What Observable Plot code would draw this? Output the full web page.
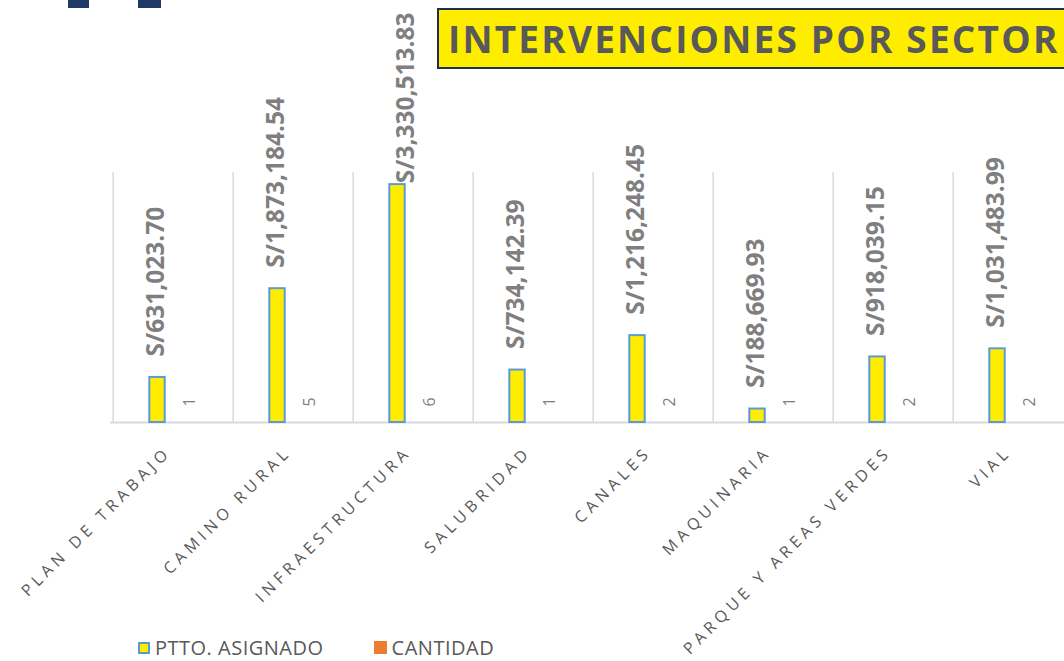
<!DOCTYPE html>
<html>
<head>
<meta charset="utf-8">
<script src="https://cdn.jsdelivr.net/npm/d3@7"></script>
<script src="https://cdn.jsdelivr.net/npm/@observablehq/plot@0.6"></script>
<style>
  html, body { margin: 0; padding: 0; background: #fff; }
  #wrap { position: relative; width: 1064px; height: 661px; overflow: hidden; font-family: "Open Sans", sans-serif; }
  #chart { position: absolute; left: 0; top: 0; }
  .deco { position: absolute; top: 0; height: 8px; background: #203864; }
  #title { position: absolute; left: 437px; top: 8px; width: 660px; height: 57px; background: #FFED00;
           border: 2px solid #1F2D4F; box-sizing: content-box; color: #595959; font-weight: 700;
           font-size: 37px; letter-spacing: 2.2px; line-height: 57px; padding-left: 9px; white-space: nowrap; }
  #legend { position: absolute; left: 138px; top: 634px; display: flex; align-items: center; color: #595959; font-size: 20px; line-height: 27px; letter-spacing: 0.5px; white-space: nowrap; }
  .sw { display: inline-block; margin-right: 5px; }
</style>
</head>
<body>
<div id="wrap">
  <div id="chart"></div>
  <div class="deco" style="left:68px;width:21px"></div>
  <div class="deco" style="left:138px;width:23px"></div>
  <div id="title">INTERVENCIONES POR SECTOR</div>
  <div id="legend"></div>
</div>
<script>
const categories = ["PLAN DE TRABAJO", "CAMINO RURAL", "INFRAESTRUCTURA", "SALUBRIDAD", "CANALES", "MAQUINARIA", "PARQUE Y AREAS VERDES", "VIAL"];
const presupuesto = [631023.70, 1873184.54, 3330513.83, 734142.39, 1216248.45, 188669.93, 918039.15, 1031483.99];
const cantidad = [1, 5, 6, 1, 2, 1, 2, 2];
const seriesNames = ["PTTO. ASIGNADO", "CANTIDAD"];
const seriesFill = ["#FFED00", "#ED7D31"];
const yMax = 3500000;

const data = categories.map((c, i) => ({sector: c, budget: presupuesto[i], count: cantidad[i]}));
const fmt = v => "S/" + d3.format(",.2f")(v);

const barOpts = {insetLeft: 52.3, insetRight: 52.3};

const plot = Plot.plot({
  width: 1064,
  height: 661,
  marginLeft: 110,
  marginRight: 0,
  marginTop: 172,
  marginBottom: 239,
  style: {fontFamily: "Open Sans, sans-serif", background: "transparent"},
  x: {domain: categories, range: [110, 1075.4], padding: 0, axis: null},
  y: {domain: [0, yMax], axis: null},
  marks: [
    Plot.ruleX(categories, {x: d => d, y1: 0, y2: yMax, dx: -60.33, stroke: "#d9d9d9", strokeWidth: 1.5}),
    Plot.ruleY([0], {stroke: "#d9d9d9", strokeWidth: 2}),
    Plot.barY(data, {x: "sector", y: "budget", fill: seriesFill[0], stroke: "#5B9BD5", strokeWidth: 2, dx: -16, ...barOpts}),
    Plot.barY(data, {x: "sector", y: "count", fill: seriesFill[1], dx: 16, ...barOpts}),
    Plot.text(data, {filter: d => d.budget < 3000000, x: "sector", y: "budget", text: d => fmt(d.budget), rotate: -90,
      textAnchor: "start", dx: -17, dy: -21, fontSize: 24.5, fontWeight: 700, fill: "#7F7F7F"}),
    Plot.text(data, {filter: d => d.budget >= 3000000, x: "sector", frameAnchor: "top", text: d => fmt(d.budget), rotate: -90,
      textAnchor: "end", dx: -17, dy: -160, fontSize: 24.5, fontWeight: 700, fill: "#7F7F7F"}),
    Plot.text(data, {x: "sector", y: 0, text: d => String(d.count), rotate: -90, textAnchor: "start",
      dx: 16, dy: -16, fontSize: 16, fill: "#7F7F7F"}),
    Plot.text(categories, {x: d => d, y: 0, text: d => d, rotate: -45, textAnchor: "end", dx: -5, dy: 27,
      fontSize: 16, fill: "#595959"})
  ]
});
// letter-spaced category labels (last text mark)
const textGroups = plot.querySelectorAll('g[aria-label="text"]');
textGroups[textGroups.length - 1].setAttribute("letter-spacing", "4.6px");
document.getElementById("chart").appendChild(plot);

const legend = document.getElementById("legend");
seriesNames.forEach((name, i) => {
  const item = document.createElement("span");
  item.style.display = "inline-flex";
  item.style.alignItems = "center";
  item.style.marginRight = i === 0 ? "50px" : "0";
  const sw = document.createElement("span");
  sw.className = "sw";
  sw.style.background = seriesFill[i];
  if (i === 0) { sw.style.border = "2px solid #5B9BD5"; sw.style.width = "8px"; sw.style.height = "8px"; }
  else { sw.style.width = "13px"; sw.style.height = "13px"; }
  item.appendChild(sw);
  item.appendChild(document.createTextNode(name));
  legend.appendChild(item);
});
</script>
</body>
</html>
